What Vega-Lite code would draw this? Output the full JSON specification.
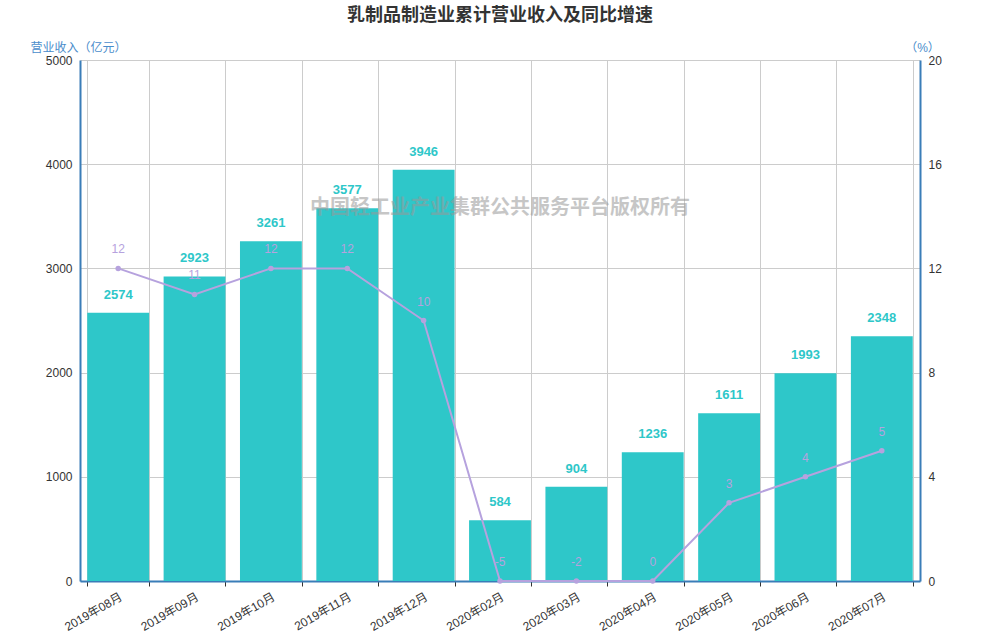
{
  "$schema": "https://vega.github.io/schema/vega-lite/v6.json",
  "width": 840,
  "height": 521,
  "autosize": {"type": "none"},
  "padding": {"left": 80, "top": 60, "right": 80, "bottom": 59},
  "title": {
    "text": "乳制品制造业累计营业收入及同比增速",
    "font": "Noto Sans CJK SC",
    "fontSize": 18,
    "fontWeight": "bold",
    "color": "#333333",
    "anchor": "middle",
    "offset": 16
  },
  "data": {
    "values": [
      {"month": "2019年08月", "revenue": 2574, "growth": 12},
      {"month": "2019年09月", "revenue": 2923, "growth": 11},
      {"month": "2019年10月", "revenue": 3261, "growth": 12},
      {"month": "2019年11月", "revenue": 3577, "growth": 12},
      {"month": "2019年12月", "revenue": 3946, "growth": 10},
      {"month": "2020年02月", "revenue": 584, "growth": -5},
      {"month": "2020年03月", "revenue": 904, "growth": -2},
      {"month": "2020年04月", "revenue": 1236, "growth": 0},
      {"month": "2020年05月", "revenue": 1611, "growth": 3},
      {"month": "2020年06月", "revenue": 1993, "growth": 4},
      {"month": "2020年07月", "revenue": 2348, "growth": 5}
    ]
  },
  "encoding": {
    "x": {
      "field": "month",
      "type": "ordinal",
      "sort": null,
      "scale": {"paddingInner": 0.19, "paddingOuter": 0.095},
      "axis": {
        "title": null,
        "labelAngle": -30,
        "tickBand": "extent",
        "grid": true,
        "gridColor": "#cccccc",
        "domainColor": "#3A7DB8",
        "domainWidth": 2,
        "tickColor": "#333333",
        "tickSize": 5,
        "labelColor": "#333333",
        "labelFontSize": 12,
        "labelPadding": 5
      }
    }
  },
  "layer": [
    {
      "layer": [
        {
          "mark": {"type": "bar", "color": "#2EC7C9"},
          "encoding": {
            "y": {
              "field": "revenue",
              "type": "quantitative",
              "scale": {"domain": [0, 5000], "nice": false},
              "axis": {
                "orient": "left",
                "title": "营业收入（亿元）",
                "titleAngle": 0,
                "titleX": -2,
                "titleY": -13,
                "titleAlign": "center",
                "titleBaseline": "middle",
                "titleColor": "#4A8DCB",
                "titleFontWeight": "normal",
                "titleFontSize": 12,
                "values": [0, 1000, 2000, 3000, 4000, 5000],
                "format": "d",
                "grid": true,
                "gridColor": "#cccccc",
                "domainColor": "#3A7DB8",
                "domainWidth": 2,
                "ticks": false,
                "labelColor": "#333333",
                "labelFontSize": 12,
                "labelPadding": 8
              }
            }
          }
        },
        {
          "mark": {
            "type": "text",
            "color": "#2EC7C9",
            "fontSize": 13,
            "fontWeight": "bold",
            "baseline": "middle",
            "dy": -18
          },
          "encoding": {
            "y": {"field": "revenue", "type": "quantitative"},
            "text": {"field": "revenue", "type": "nominal"}
          }
        },
        {
          "data": {"values": [{"mark": "中国轻工业产业集群公共服务平台版权所有"}]},
          "mark": {
            "type": "text",
            "fontSize": 20,
            "fontWeight": "bold",
            "color": "#999999",
            "opacity": 0.55,
            "baseline": "middle",
            "align": "center"
          },
          "encoding": {
            "x": {"datum": "2020年02月"},
            "y": {"datum": 3580},
            "text": {"field": "mark"}
          }
        }
      ]
    },
    {
      "layer": [
        {
          "mark": {"type": "line", "color": "#B6A2DE", "strokeWidth": 2},
          "encoding": {
            "y": {
              "field": "growth",
              "type": "quantitative",
              "scale": {"domain": [0, 20], "nice": false, "clamp": true},
              "axis": {
                "orient": "right",
                "title": "（%）",
                "titleAngle": 0,
                "titleX": 2,
                "titleY": -13,
                "titleAlign": "center",
                "titleBaseline": "middle",
                "titleColor": "#4A8DCB",
                "titleFontWeight": "normal",
                "titleFontSize": 12,
                "values": [0, 4, 8, 12, 16, 20],
                "grid": false,
                "domainColor": "#3A7DB8",
                "domainWidth": 2,
                "ticks": false,
                "labelColor": "#333333",
                "labelFontSize": 12,
                "labelPadding": 8
              }
            }
          }
        },
        {
          "mark": {"type": "point", "filled": true, "color": "#B6A2DE", "size": 30, "opacity": 1},
          "encoding": {
            "y": {"field": "growth", "type": "quantitative"}
          }
        },
        {
          "mark": {
            "type": "text",
            "color": "#B6A2DE",
            "fontSize": 12,
            "baseline": "middle",
            "dy": -19
          },
          "encoding": {
            "y": {"field": "growth", "type": "quantitative"},
            "text": {"field": "growth", "type": "nominal"}
          }
        }
      ]
    }
  ],
  "resolve": {"scale": {"y": "independent"}},
  "config": {
    "font": "Liberation Sans, Noto Sans CJK SC",
    "view": {"stroke": null}
  }
}
